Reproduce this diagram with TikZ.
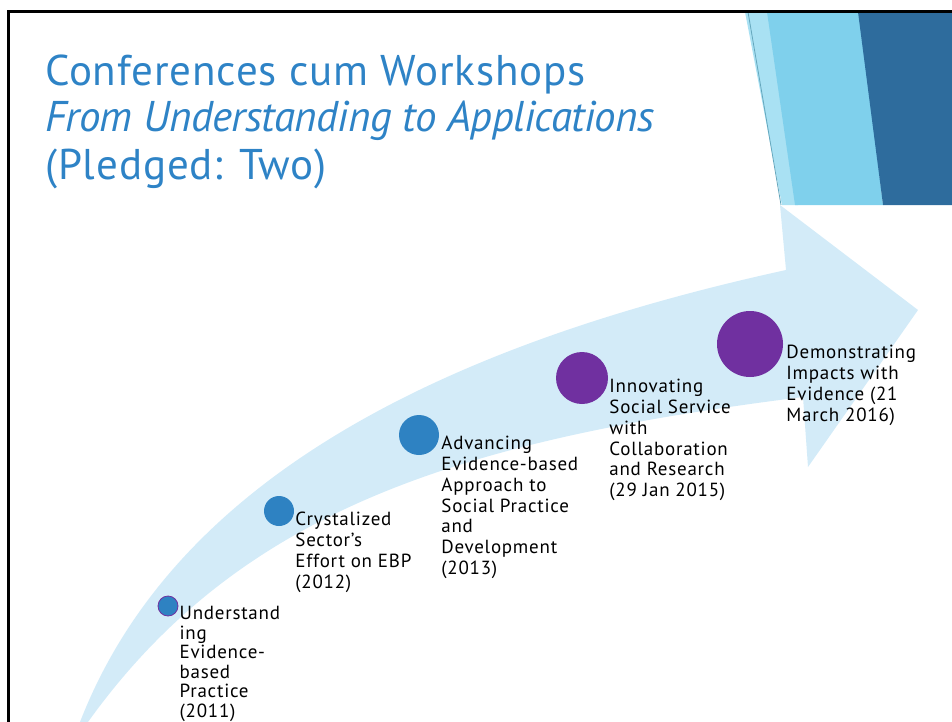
\documentclass[tikz,border=0pt]{standalone}
\usepackage{fontspec}
\setmainfont{PT Sans}
\newfontfamily\eventfont[LetterSpace=4]{PT Sans}
\newfontfamily\headfont[LetterSpace=2]{PT Sans}
\newfontfamily\subheadfont[LetterSpace=-1.5]{PT Sans}
\usetikzlibrary{positioning}

\definecolor{titleblue}{RGB}{46,131,198}
\definecolor{arrowblue}{RGB}{211,235,248}
\definecolor{dotblue}{RGB}{46,130,194}
\definecolor{dotpurple}{RGB}{112,48,160}
\definecolor{deckdark}{RGB}{46,108,157}
\definecolor{decklight}{RGB}{127,208,236}
\definecolor{deckpale}{RGB}{169,225,243}

\begin{document}
\begin{tikzpicture}[x=1pt, y=-1pt,
      dot/.style={circle, inner sep=0pt, fill=dotblue},
      bigdot/.style={dot, fill=dotpurple},
      event/.style={anchor=north west, inner sep=0pt, align=left,
          font=\eventfont\fontsize{19}{20.8}\selectfont},
      heading/.style={anchor=base west, inner sep=0pt, text=titleblue,
          font=\headfont\fontsize{43}{48}\selectfont}]
      \useasboundingbox (0,0) rectangle (952,722);

      % corner decoration
      \fill[deckpale] (745,12) -- (770,12) -- (798,205) -- (782,205) -- cycle;
      \fill[decklight] (767,12) -- (860,12) -- (883,205) -- (795,205) -- cycle;
      \fill[deckdark] (858,12) -- (952,12) -- (952,205) -- (883,205) -- cycle;
      \draw[decklight!80!black, line width=0.8pt] (748,12) -- (781,205);

      % frame
      \draw[line width=3pt] (8,722) -- (8,12) -- (952,12);

      % title
      \node[heading] (title) at (45,86) {Conferences cum Workshops};
      \node[heading, font=\subheadfont\itshape\fontsize{43}{48}\selectfont] (subtitle) at (45,132)
          {From Understanding to Applications};
      \node[heading] (pledge) at (45,179) {(Pledged: Two)};

      % timeline arrow
      \fill[arrowblue] (80,722) .. controls (170,490) and (420,350) .. (786,270)
          -- (780,205) -- (918,310) -- (808,467) -- (803,397)
          .. controls (460,440) and (240,510) .. (88,722) -- cycle;

      % milestones
      \node[dot, minimum size=20, draw=dotpurple, line width=0.8pt] (c1) at (168,606) {};
      \node[dot, minimum size=30] (c2) at (279,511) {};
      \node[dot, minimum size=40] (c3) at (419,435) {};
      \node[bigdot, minimum size=52] (c4) at (582,378) {};
      \node[bigdot, minimum size=66] (c5) at (750,344) {};

      \node[event, font=\eventfont\fontsize{19}{19.6}\selectfont] (e1) at ([shift={(1,0)}]c1.east)
          {Understand\\ing\\Evidence-\\based\\Practice\\(2011)};
      \node[event] (e2) at ([shift={(1,1)}]c2.east)
          {Crystalized\\Sector’s\\Effort on EBP\\(2012)};
      \node[event] (e3) at ([shift={(2,1)}]c3.east)
          {Advancing\\Evidence-based\\Approach to\\Social Practice\\and\\Development\\(2013)};
      \node[event] (e4) at ([shift={(1,1)}]c4.east)
          {Innovating\\Social Service\\with\\Collaboration\\and Research\\(29 Jan 2015)};
      \node[event] (e5) at ([shift={(3,1)}]c5.east)
          {Demonstrating\\Impacts with\\Evidence (21\\March 2016)};
\end{tikzpicture}
\end{document}
